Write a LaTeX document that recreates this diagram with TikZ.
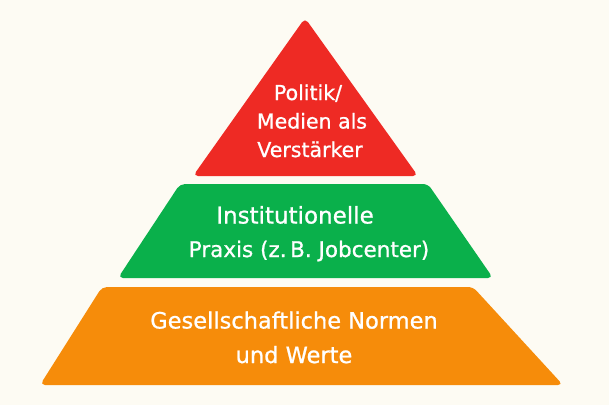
\documentclass[tikz,border=0pt]{standalone}
\usepackage{fontspec}
\setmainfont[FakeBold=0.9]{DejaVu Sans}
\definecolor{bg}{HTML}{FDFBF3}
\definecolor{tierred}{HTML}{EE2A24}
\definecolor{tiergreen}{HTML}{0AB04B}
\definecolor{tierorange}{HTML}{F68C0A}
\tikzset{
  tier/.style={rounded corners=5pt},
  lbl/.style={text=white, anchor=base, inner sep=0pt},
}
\begin{document}
\begin{tikzpicture}[x=1pt,y=-1pt]
\fill[bg] (0,0) rectangle (609,405);
\useasboundingbox (0,0) rectangle (609,405);
% red top
\fill[tierred, tier] (305,18) -- (418,176) -- (193,176) -- cycle;
% green middle
\fill[tiergreen, tier] (180,184) -- (428,184) -- (493,278) -- (118,278) -- cycle;
% orange bottom
\fill[tierorange, tier] (102,287) -- (473,287) -- (563,385) -- (40,385) -- cycle;
% labels
\node[lbl, font=\fontsize{20.5}{24}\selectfont] (r1) at (308,100) {Politik/};
\node[lbl, font=\fontsize{20.5}{24}\selectfont] (r2) at (312,128.5) {Medien als};
\node[lbl, font=\fontsize{20.5}{24}\selectfont] (r3) at (310,157) {Verstärker};
\node[lbl, font=\fontsize{23}{27}\selectfont] (g1) at (295,223.5) {Institutionelle};
\node[lbl, font=\fontsize{21.5}{26}\selectfont] (g2) at (309,257) {Praxis (z.\,B. Jobcenter)};
\node[lbl, font=\fontsize{22.5}{27}\selectfont] (o1) at (294,328.5) {Gesellschaftliche Normen};
\node[lbl, font=\fontsize{22.5}{27}\selectfont] (o2) at (294,363) {und Werte};
\end{tikzpicture}
\end{document}
